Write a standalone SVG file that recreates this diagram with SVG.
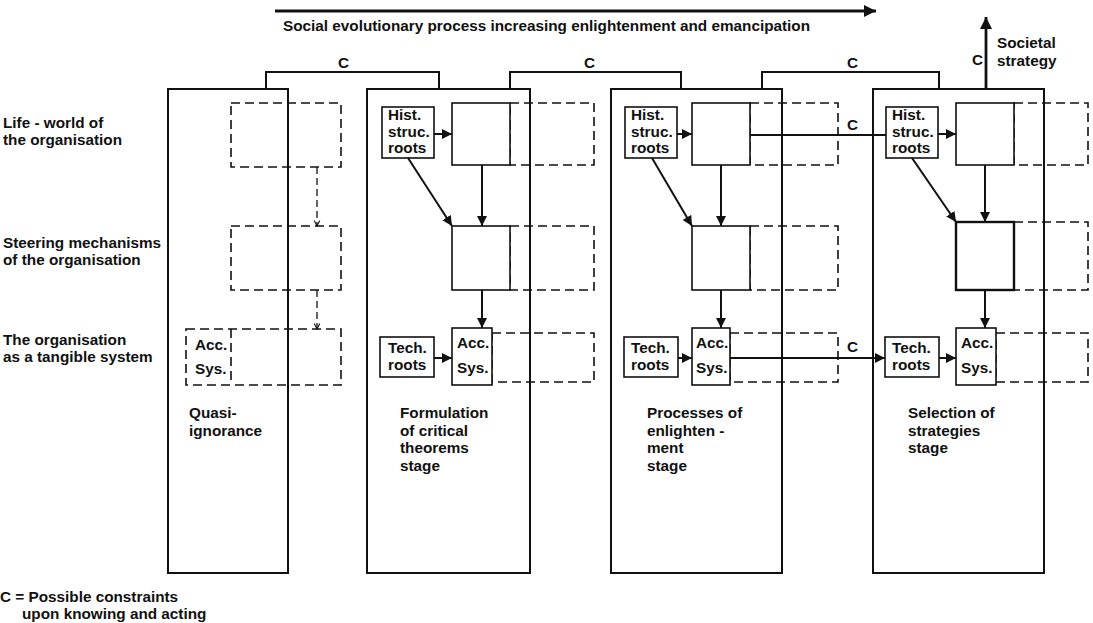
<svg xmlns="http://www.w3.org/2000/svg" width="1093" height="623" viewBox="0 0 1093 623">
<style>
text{font-family:"Liberation Sans",Arial,sans-serif;font-weight:bold;font-size:15.3px;fill:#111}
.panel{fill:none;stroke:#111;stroke-width:2}
.box{fill:#fff;stroke:#111;stroke-width:1.6}
.dash{fill:none;stroke:#111;stroke-width:1.6;stroke-dasharray:9 5}
.line{fill:none;stroke:#111;stroke-width:2}
.heavy{fill:none;stroke:#111;stroke-width:2.8}
.dl{fill:none;stroke:#111;stroke-width:1.3;stroke-dasharray:7 4}
</style>
<defs>
<marker id="ah" viewBox="0 0 10 10" refX="10" refY="5" markerWidth="10" markerHeight="10" markerUnits="userSpaceOnUse" orient="auto"><path d="M0,0 L10,5 L0,10 z" fill="#111"/></marker>
<marker id="ahb" viewBox="0 0 10 10" refX="10" refY="5" markerWidth="12" markerHeight="12" markerUnits="userSpaceOnUse" orient="auto"><path d="M0,0 L10,5 L0,10 z" fill="#111"/></marker>
<marker id="ahd" viewBox="0 0 10 10" refX="9" refY="5" markerWidth="7" markerHeight="7" markerUnits="userSpaceOnUse" orient="auto"><path d="M1,1 L9,5 L1,9" fill="none" stroke="#111" stroke-width="1.5"/></marker>
</defs>

<g id="title">
<line class="heavy" x1="275" y1="11" x2="876" y2="11" marker-end="url(#ahb)"/>
<text x="283" y="31">Social evolutionary process increasing enlightenment and emancipation</text>
</g>

<g id="row-labels">
<text x="3" y="128">Life - world of</text>
<text x="3" y="145">the organisation</text>
<text x="3" y="248">Steering mechanisms</text>
<text x="3" y="265">of the organisation</text>
<text x="3" y="345">The organisation</text>
<text x="3" y="362">as a tangible system</text>
</g>

<g id="stage-quasi">
<rect class="panel" x="168" y="89" width="120" height="484"/>
<rect class="dash" x="231" y="103" width="110" height="64"/>
<rect class="dash" x="231" y="226" width="110" height="64"/>
<rect class="dash" x="186" y="329" width="155" height="56"/>
<line class="dash" x1="231" y1="329" x2="231" y2="385"/>
<text x="195" y="350">Acc.</text>
<text x="195" y="374">Sys.</text>
<text x="189" y="418">Quasi-</text>
<text x="189" y="436">ignorance</text>
</g>

<g id="stage-formulation">
<rect class="panel" x="367" y="89" width="163" height="484"/>
<rect class="dash" x="510" y="103" width="84" height="62"/>
<rect class="box" x="452" y="103" width="58" height="62"/>
<rect class="box" x="382" y="107" width="52" height="51"/>
<text x="388" y="120">Hist.</text>
<text x="388" y="137">struc.</text>
<text x="388" y="153">roots</text>
<rect class="dash" x="510" y="226" width="84" height="64"/>
<rect class="box" x="452" y="226" width="58" height="64"/>
<rect class="dash" x="492" y="333" width="102" height="49"/>
<rect class="box" x="452" y="328" width="40" height="57"/>
<text x="457" y="348">Acc.</text>
<text x="457" y="373">Sys.</text>
<rect class="box" x="380" y="337" width="54" height="40"/>
<text x="388" y="353">Tech.</text>
<text x="388" y="370">roots</text>
<text x="400" y="418">Formulation</text>
<text x="400" y="436">of critical</text>
<text x="400" y="453">theorems</text>
<text x="400" y="471">stage</text>
</g>

<g id="stage-enlightenment">
<rect class="panel" x="611" y="89" width="171" height="484"/>
<rect class="dash" x="750" y="103" width="88" height="62"/>
<rect class="box" x="692" y="103" width="58" height="62"/>
<rect class="box" x="625" y="107" width="52" height="51"/>
<text x="631" y="120">Hist.</text>
<text x="631" y="137">struc.</text>
<text x="631" y="153">roots</text>
<rect class="dash" x="750" y="226" width="88" height="64"/>
<rect class="box" x="692" y="226" width="58" height="64"/>
<rect class="dash" x="730" y="333" width="108" height="49"/>
<rect class="box" x="692" y="328" width="38" height="57"/>
<text x="696" y="348">Acc.</text>
<text x="696" y="373">Sys.</text>
<rect class="box" x="624" y="337" width="54" height="40"/>
<text x="631" y="353">Tech.</text>
<text x="631" y="370">roots</text>
<text x="647" y="418">Processes of</text>
<text x="647" y="436">enlighten -</text>
<text x="647" y="453">ment</text>
<text x="647" y="471">stage</text>
</g>

<g id="stage-selection">
<rect class="panel" x="873" y="89" width="171" height="484"/>
<rect class="dash" x="1014" y="103" width="74" height="62"/>
<rect class="box" x="956" y="103" width="58" height="62"/>
<rect class="box" x="886" y="107" width="52" height="51"/>
<text x="892" y="120">Hist.</text>
<text x="892" y="137">struc.</text>
<text x="892" y="153">roots</text>
<rect class="dash" x="1014" y="222" width="74" height="68"/>
<rect class="box" x="956" y="222" width="58" height="68" style="stroke-width:2.4"/>
<rect class="dash" x="996" y="333" width="92" height="49"/>
<rect class="box" x="956" y="328" width="40" height="57"/>
<text x="961" y="348">Acc.</text>
<text x="961" y="373">Sys.</text>
<rect class="box" x="885" y="337" width="54" height="40"/>
<text x="892" y="353">Tech.</text>
<text x="892" y="370">roots</text>
<text x="908" y="418">Selection of</text>
<text x="908" y="436">strategies</text>
<text x="908" y="453">stage</text>
</g>

<g id="societal-strategy">
<text x="997" y="48">Societal</text>
<text x="997" y="66">strategy</text>
</g>

<g id="legend">
<text x="0" y="602">C = Possible constraints</text>
<text x="22" y="619">upon knowing and acting</text>
</g>

<g id="connectors">
<polyline class="line" points="266,89 266,72 439,72 439,89"/>
<text x="338" y="68">C</text>
<polyline class="line" points="510,89 510,72 681,72 681,89"/>
<text x="584" y="68">C</text>
<polyline class="line" points="762,89 762,72 939,72 939,89"/>
<text x="847" y="68">C</text>
<line class="heavy" x1="986" y1="89" x2="986" y2="17" marker-end="url(#ahb)"/>
<text x="972" y="65">C</text>

<line class="dl" x1="317" y1="167" x2="317" y2="226" marker-end="url(#ahd)"/>
<line class="dl" x1="317" y1="290" x2="317" y2="329" marker-end="url(#ahd)"/>

<line class="line" x1="434" y1="134" x2="452" y2="134" marker-end="url(#ah)"/>
<line class="line" x1="408" y1="158" x2="452" y2="226" marker-end="url(#ah)"/>
<line class="line" x1="482" y1="165" x2="482" y2="226" marker-end="url(#ah)"/>
<line class="line" x1="482" y1="290" x2="482" y2="328" marker-end="url(#ah)"/>
<line class="line" x1="434" y1="358" x2="452" y2="358" marker-end="url(#ah)"/>

<line class="line" x1="677" y1="134" x2="692" y2="134" marker-end="url(#ah)"/>
<line class="line" x1="652" y1="158" x2="692" y2="226" marker-end="url(#ah)"/>
<line class="line" x1="721" y1="165" x2="721" y2="226" marker-end="url(#ah)"/>
<line class="line" x1="721" y1="290" x2="721" y2="328" marker-end="url(#ah)"/>
<line class="line" x1="678" y1="358" x2="692" y2="358" marker-end="url(#ah)"/>

<line class="line" x1="750" y1="135" x2="886" y2="135"/>
<text x="847" y="130">C</text>
<line class="line" x1="730" y1="358" x2="885" y2="358" marker-end="url(#ah)"/>
<text x="847" y="352">C</text>

<line class="line" x1="938" y1="134" x2="956" y2="134" marker-end="url(#ah)"/>
<line class="line" x1="912" y1="158" x2="956" y2="222" marker-end="url(#ah)"/>
<line class="line" x1="985" y1="165" x2="985" y2="222" marker-end="url(#ah)"/>
<line class="line" x1="985" y1="290" x2="985" y2="328" marker-end="url(#ah)"/>
<line class="line" x1="939" y1="358" x2="956" y2="358" marker-end="url(#ah)"/>
</g>
</svg>
